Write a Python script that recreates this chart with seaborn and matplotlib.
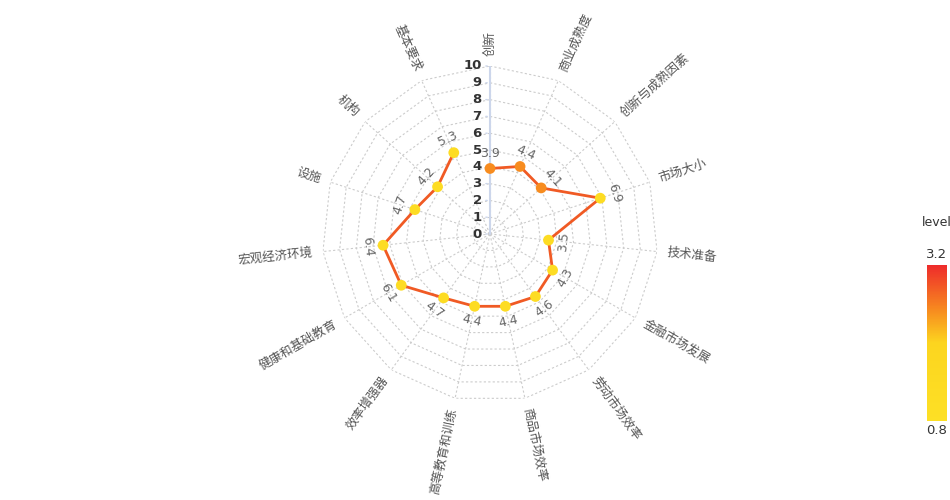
import numpy as np
import pandas as pd
import matplotlib
matplotlib.use('Agg')
import matplotlib.pyplot as plt
from matplotlib.colors import LinearSegmentedColormap, Normalize
from matplotlib.cm import ScalarMappable
import seaborn as sns

categories = ['创新', '商业成熟度', '创新与成熟因素', '市场大小', '技术准备', '金融市场发展',
              '劳动市场效率', '商品市场效率', '高等教育和训练', '效率增强器', '健康和基础教育',
              '宏观经济环境', '设施', '机构', '基本要求']
scores = [3.9, 4.4, 4.1, 6.9, 3.5, 4.3, 4.6, 4.4, 4.4, 4.7, 6.1, 6.4, 4.7, 4.2, 5.3]
levels = [2.5, 2.5, 2.5, 1.2, 1.2, 1.2, 1.2, 1.2, 1.2, 1.2, 1.2, 1.2, 1.2, 1.2, 1.2]
level_min, level_max = 0.8, 3.2
radial_ticks = list(range(0, 11))

sns.set_style('white')
plt.rcParams['font.family'] = ['Noto Sans CJK SC', 'DejaVu Sans']

cmap = LinearSegmentedColormap.from_list(
    'level', [(0, '#fde025'), (0.5, '#fcd51f'), (0.72, '#f7881f'), (1, '#ee2b2b')])
norm = Normalize(level_min, level_max)

n = len(categories)
angles = np.arange(n) * 2 * np.pi / n
df = pd.DataFrame({'angle': angles, 'score': scores, 'level': levels, 'cat': categories})
closed = pd.concat([df, df.iloc[:1]], ignore_index=True)

fig = plt.figure(figsize=(9.5, 5), dpi=100)
cx, cy, R = 490, 234, 168
ax = fig.add_axes([(cx - R) / 950, (500 - cy - R) / 500, 2 * R / 950, 2 * R / 500],
                  projection='polar')
ax.set_theta_zero_location('N')
ax.set_theta_direction(-1)
ax.set_ylim(0, 10)
ax.axis('off')

# polygon grid rings and spokes
ring_t = np.append(angles, angles[0])
for r in radial_ticks[1:]:
    ax.plot(ring_t, [r] * len(ring_t), color='#cccccc', lw=0.8, ls=(0, (2, 2)), zorder=1)
for a in angles:
    ax.plot([a, a], [0, 10], color='#cccccc', lw=0.8, ls=(0, (2, 2)), zorder=1)

# radial axis
ax.plot([0, 0], [0, 10], color='#ccd6eb', lw=1.5, zorder=2)
for r in radial_ticks:
    ax.annotate('', xy=(0, r), xytext=(-5, 0), textcoords='offset points',
                arrowprops=dict(arrowstyle='-', color='#ccd6eb', lw=1))
    ax.annotate(str(r), xy=(0, r), xytext=(-6, 0), textcoords='offset points',
                ha='right', va='center', fontsize=9.5, color='#333333',
                fontweight='bold', family=['DejaVu Sans'])

# data
sns.lineplot(data=closed, x='angle', y='score', sort=False, color='#f05a24', lw=2,
             ax=ax, zorder=3)
sns.scatterplot(data=df, x='angle', y='score', hue='level', palette=cmap, hue_norm=norm,
                s=60, edgecolor='none', legend=False, ax=ax, zorder=4)

for a, v, c in zip(angles, scores, categories):
    deg = np.degrees(a)
    # value labels, tangential
    rot = -deg
    while rot < -90:
        rot += 180
    while rot > 90:
        rot -= 180
    ax.text(a, v + 0.9, f'{v}', rotation=rot, rotation_mode='anchor', ha='center',
            va='center', fontsize=9, color='#666666', family=['DejaVu Sans'])
    # category labels, radial
    phi = 90 - deg
    ha = 'left'
    if phi < -90:
        phi += 180
        ha = 'right'
    ax.text(a, 10.6, c, rotation=phi, rotation_mode='anchor', ha=ha, va='center',
            fontsize=9, color='#555555')

# level colour bar
cax = fig.add_axes([927 / 950, (500 - 421) / 500, 20 / 950, 156 / 500])
cb = fig.colorbar(ScalarMappable(norm=norm, cmap=cmap), cax=cax)
cb.outline.set_visible(False)
cb.set_ticks([])
fig.text(922 / 950, (500 - 222) / 500, 'level', fontsize=9, color='#333333',
         ha='left', va='center', family=['DejaVu Sans'])
fig.text(937 / 950, (500 - 254) / 500, f'{level_max}', fontsize=9.5, color='#333333',
         ha='center', va='center', family=['DejaVu Sans'])
fig.text(937 / 950, (500 - 431) / 500, f'{level_min}', fontsize=9.5, color='#333333',
         ha='center', va='center', family=['DejaVu Sans'])

fig.savefig('out.png', dpi=100)
